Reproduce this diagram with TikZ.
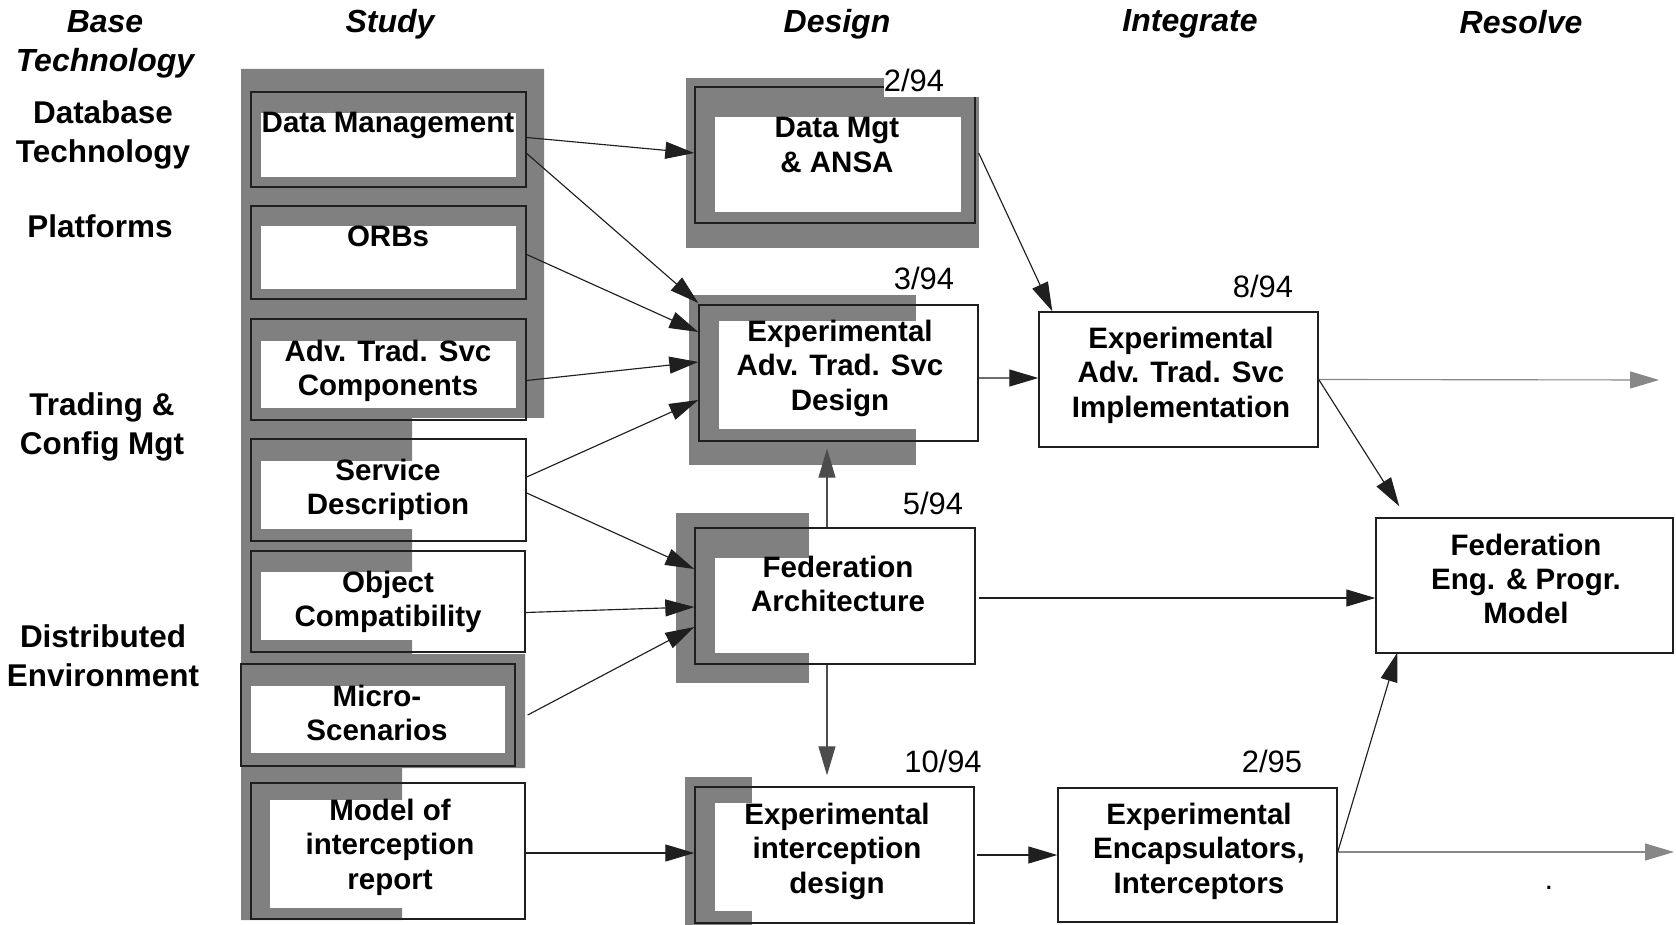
\documentclass[tikz,border=0pt]{standalone}
\usepackage{fontspec}
\setmainfont{Liberation Sans}
\usetikzlibrary{arrows.meta,calc,fit}
\colorlet{shadeGray}{black!50}
\colorlet{darkGray}{black!70}
\colorlet{lightGray}{black!47}
\colorlet{lineBlack}{black!88}

\begin{document}
\begin{tikzpicture}[
    x=0.02cm, y=-0.02cm,
    box/.style={draw=lineBlack, line width=0.8pt, inner sep=0pt},
    boxtext/.style={align=center, inner sep=0pt, font={\fontsize{16.8}{19.6}\selectfont\bfseries}},
    head/.style={align=center, inner sep=0pt, font={\fontsize{18.2}{22.2}\selectfont\bfseries\itshape}},
    side/.style={align=center, inner sep=0pt, font={\fontsize{17.9}{22}\selectfont\bfseries}},
    date/.style={inner sep=0pt, font={\fontsize{17.6}{20}\selectfont}},
    arr/.style={-{Triangle[length=0.58cm,width=0.34cm]}, line width=0.65pt, draw=lineBlack},
    darr/.style={arr, draw=darkGray, fill=darkGray},
    garr/.style={arr, draw=lightGray, fill=lightGray},
  ]
  \useasboundingbox (0,0) rectangle (1676,925);

  % gray backing of the study column and the design boxes
  \fill[shadeGray] (241,69) -- (544,69) -- (544,418) -- (412,418) -- (412,654)
    -- (525,654) -- (525,768) -- (402,768) -- (402,920) -- (241,920) -- cycle;
  \fill[shadeGray] (686,78) rectangle (979,248);
  \fill[shadeGray] (689,295) rectangle (916,465);
  \fill[shadeGray] (676,513) rectangle (809,683);
  \fill[shadeGray] (685,777) rectangle (752,925);

  % white panels inside the boxes
  \fill[white] (261,113) rectangle (516,177);
  \fill[white] (261,226) rectangle (516,289);
  \fill[white] (261,341) rectangle (516,408);
  \fill[white] (261,461) rectangle (516,529);
  \fill[white] (261,572) rectangle (515,640);
  \fill[white] (251,686) rectangle (505,753);
  \fill[white] (270,800) rectangle (515,908);
  \fill[white] (715,117) rectangle (961,212);
  \fill[white] (719,321) rectangle (968,429);
  \fill[white] (715,558) rectangle (965,653);
  \fill[white] (715,803) rectangle (964,911);

  % boxes
  \node[box, fit={(251,92) (526,187)}] (dm) {};
  \node[box, fit={(251,206) (526,299)}] (orbs) {};
  \node[box, fit={(251,319) (526,420)}] (advcomp) {};
  \node[box, fit={(251,439) (526,541)}] (svcdesc) {};
  \node[box, fit={(251,551) (525,652)}] (objcomp) {};
  \node[box, fit={(241,664) (515,766)}] (micro) {};
  \node[box, fit={(251,783) (525,919)}] (model) {};
  \node[box, fit={(695,87) (975,223)}] (ansa) {};
  \node[box, fit={(699,305) (978,441)}] (advdesign) {};
  \node[box, fit={(695,528) (975,664)}] (fedarch) {};
  \node[box, fit={(695,787) (974,923)}] (expint) {};
  \node[box, fit={(1039,312) (1318,447)}] (impl) {};
  \node[box, fit={(1058,788) (1337,922)}] (encaps) {};
  \node[box, fit={(1376,518) (1673,653)}] (fedeng) {};

  % box texts
  \node[boxtext] (dmText) at (388,125) {Data Management};
  \node[boxtext] (orbsText) at (388,236) {ORBs};
  \node[boxtext] (advcompText) at (388,371) {Adv. Trad. Svc\\Components};
  \node[boxtext] (svcdescText) at (388,490) {Service\\Description};
  \node[boxtext] (objcompText) at (388,602) {Object\\Compatibility};
  \node[boxtext] (microText) at (377,713) {Micro-\\Scenarios};
  \node[boxtext] (modelText) at (390,847) {Model of\\interception\\report};
  \node[boxtext] (ansaText) at (837,145) {Data Mgt\\\& ANSA};
  \node[boxtext] (advdesignText) at (840,368) {Experimental\\Adv. Trad. Svc\\Design};
  \node[boxtext] (fedarchText) at (838,584) {Federation\\Architecture};
  \node[boxtext] (expintText) at (837,851) {Experimental\\interception\\design};
  \node[boxtext] (implText) at (1181,375) {Experimental\\Adv. Trad. Svc\\Implementation};
  \node[boxtext] (encapsText) at (1199,851) {Experimental\\Encapsulators,\\Interceptors};
  \node[boxtext] (fedengText) at (1526,579) {Federation\\Eng. \& Progr.\\Model};

  % column heads
  \node[head] (baseHead) at (105,44) {Base\\Technology};
  \node[head] (studyHead) at (390,24) {Study};
  \node[head] (designHead) at (837,24) {Design};
  \node[head] (integrateHead) at (1190,24) {Integrate};
  \node[head] (resolveHead) at (1521,22) {Resolve};

  % base technology rows
  \node[side] (dbSide) at (103,135) {Database\\Technology};
  \node[side] (platSide) at (100,226) {Platforms};
  \node[side] (tradeSide) at (102,427) {Trading \&\\Config Mgt};
  \node[side] (distSide) at (103,656) {Distributed\\Environment};

  % dates
  \fill[white] (884,76) rectangle (981,97);
  \node[date] (ansaDate) at (914,80) {2/94};
  \node[date] (advdesignDate) at (924,278) {3/94};
  \node[date] (fedarchDate) at (933,503) {5/94};
  \node[date] (expintDate) at (943,761) {10/94};
  \node[date] (implDate) at (1263,286) {8/94};
  \node[date] (encapsDate) at (1272,761) {2/95};
  \node[date] (dot) at (1549,888) {.};

  \coordinate (implOut) at (1659,380);
  \coordinate (encapsOut) at (1674,852);

  % connectors
  \draw[arr] ($(dm.east)+(0,-2)$) -- ($(ansa.west)+(0,-2)$);
  \draw[arr] ($(dm.east)+(0,14)$) -- ($(advdesign.west)+(0,-70)$);
  \draw[arr] ($(orbs.east)+(0,2)$) -- ($(advdesign.west)+(0,-41)$);
  \draw[arr] ($(advcomp.east)+(0,11)$) -- ($(advdesign.west)+(0,-11)$);
  \draw[arr] ($(svcdesc.east)+(0,-13)$) -- ($(advdesign.west)+(0,27)$);
  \draw[arr] ($(svcdesc.east)+(0,3)$) -- ($(fedarch.west)+(0,-27)$);
  \draw[arr] ($(objcomp.east)+(0,11)$) -- ($(fedarch.west)+(0,11)$);
  \draw[arr] ($(micro.east)+(12,0)$) -- ($(fedarch.west)+(0,31)$);
  \draw[arr] ($(model.east)+(0,2)$) -- ($(expint.west)+(0,-2)$);

  \draw[arr] ($(ansa.east)+(3,-2)$) -- ($(impl.north west)+(14,0)$);
  \draw[arr] ($(advdesign.east)+(0,5)$) -- ($(impl.west)+(0,-1.5)$);
  \draw[darr] ($(fedarch.north)+(-8,0)$) -- ($(advdesign.south)+(-11.5,7)$);
  \draw[darr] ($(fedarch.south)+(-8,0)$) -- ($(expint.north)+(-7.5,-11)$);
  \draw[arr] ($(fedarch.east)+(3,2)$) -- ($(fedeng.west)+(0,12.5)$);
  \draw[arr] ($(expint.east)+(2,0)$) -- (encaps.west);

  \draw[garr] (impl.east) -- (implOut);
  \draw[arr] (impl.east) -- ($(fedeng.north west)+(24,-11)$);
  \draw[garr] ($(encaps.east)+(0,-3)$) -- (encapsOut);
  \draw[arr] ($(encaps.east)+(0,-3)$) -- ($(fedeng.south west)+(22,-1)$);
\end{tikzpicture}
\end{document}
